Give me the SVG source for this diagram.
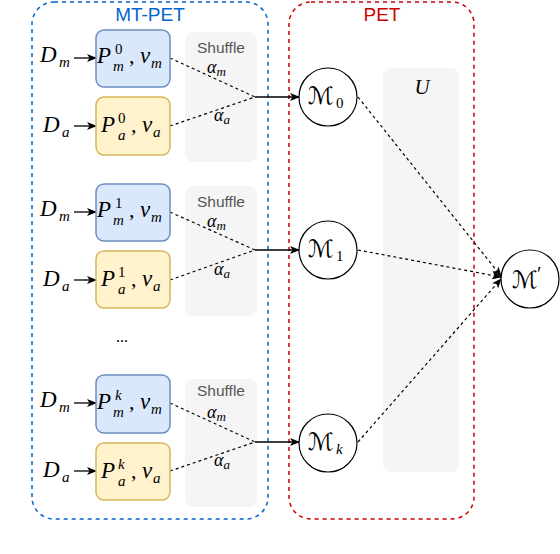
<svg xmlns="http://www.w3.org/2000/svg" width="560" height="554" viewBox="0 0 560 554">
<defs>
<style>
.cont{fill:none;stroke-width:1.5;stroke-dasharray:4 4}
.blue{fill:#dae8fc;stroke:#6c8ebf;stroke-width:1.5}
.yel{fill:#fff2cc;stroke:#d6b656;stroke-width:1.5}
.gray{fill:#f5f5f5;stroke:none}
.circ{fill:#fff;stroke:#000;stroke-width:1.2}
.dash{fill:none;stroke:#000;stroke-width:1.2;stroke-dasharray:3 3}
.solid{fill:none;stroke:#000;stroke-width:1.3}
.m{font-family:"Liberation Serif","DejaVu Serif",serif;font-style:italic;fill:#000}
.r{font-family:"Liberation Serif","DejaVu Serif",serif;fill:#000}
.cal{font-family:"DejaVu Sans","DejaVu Serif",serif;fill:#000}
.lbl{font-family:"Liberation Sans",Arial,sans-serif;font-size:19px;text-anchor:middle}
.sh{font-family:"Liberation Sans",Arial,sans-serif;font-size:15.5px;fill:#555;text-anchor:middle}
</style>
<marker id="ah" markerWidth="10" markerHeight="8" refX="9" refY="4" orient="auto" markerUnits="userSpaceOnUse">
<path d="M0,0 L10,4 L0,8 L2.5,4 Z" fill="#000"/>
</marker>
</defs>
<rect width="560" height="554" fill="#fff"/>

<g id="mtpet">
<rect x="32" y="2" width="236" height="517" rx="22" class="cont" stroke="#0066cc"/>
<text x="150" y="21" class="lbl" fill="#0066cc">MT-PET</text>
</g>
<g id="pet">
<rect x="289" y="2" width="185" height="517" rx="22" class="cont" stroke="#cc0000"/>
<text x="382" y="21" class="lbl" fill="#cc0000">PET</text>
</g>

<g id="shuffle0"><rect x="185" y="32" width="72" height="130" rx="8" class="gray"/><text x="221" y="53" class="sh">Shuffle</text></g>
<g id="shuffle1"><rect x="185" y="186" width="72" height="130" rx="8" class="gray"/><text x="221" y="207" class="sh">Shuffle</text></g>
<g id="shuffle2"><rect x="185" y="379" width="72" height="128" rx="8" class="gray"/><text x="221" y="396" class="sh">Shuffle</text></g>

<g id="U"><rect x="383" y="68" width="76" height="404" rx="8" class="gray"/><text x="422" y="94" class="m" font-size="21" text-anchor="middle">U</text></g>

<g id="connectors">
<line x1="74" y1="58" x2="96" y2="58" class="solid" marker-end="url(#ah)"/>
<line x1="74" y1="126" x2="96" y2="126" class="solid" marker-end="url(#ah)"/>
<polyline points="170,58 255,97" class="dash"/>
<polyline points="170,126 255,97" class="dash"/>
<line x1="255" y1="97" x2="299" y2="97" class="solid" marker-end="url(#ah)"/>
<line x1="74" y1="212" x2="96" y2="212" class="solid" marker-end="url(#ah)"/>
<line x1="74" y1="280" x2="96" y2="280" class="solid" marker-end="url(#ah)"/>
<polyline points="170,212 255,250" class="dash"/>
<polyline points="170,280 255,250" class="dash"/>
<line x1="255" y1="250" x2="299" y2="250" class="solid" marker-end="url(#ah)"/>
<line x1="74" y1="403" x2="96" y2="403" class="solid" marker-end="url(#ah)"/>
<line x1="74" y1="471" x2="96" y2="471" class="solid" marker-end="url(#ah)"/>
<polyline points="170,403 255,442" class="dash"/>
<polyline points="170,471 255,442" class="dash"/>
<line x1="255" y1="442" x2="299" y2="442" class="solid" marker-end="url(#ah)"/>
<line x1="358" y1="97" x2="501" y2="276" class="dash" marker-end="url(#ah)"/>
<line x1="358" y1="250" x2="501" y2="277" class="dash" marker-end="url(#ah)"/>
<line x1="358" y1="442" x2="501" y2="279" class="dash" marker-end="url(#ah)"/>
</g>

<g id="alphas">
<text x="207" y="73" class="m" font-size="18">α<tspan font-size="13" dy="3">m</tspan></text>
<text x="214" y="121" class="m" font-size="18">α<tspan font-size="13" dy="3">a</tspan></text>
<text x="207" y="227" class="m" font-size="18">α<tspan font-size="13" dy="3">m</tspan></text>
<text x="214" y="275" class="m" font-size="18">α<tspan font-size="13" dy="3">a</tspan></text>
<text x="207" y="418" class="m" font-size="18">α<tspan font-size="13" dy="3">m</tspan></text>
<text x="214" y="466" class="m" font-size="18">α<tspan font-size="13" dy="3">a</tspan></text>
</g>

<g id="D0m"><text x="40" y="62" class="m" font-size="23">D</text><text x="59" y="67" class="m" font-size="15">m</text></g>
<g id="D0a"><text x="43" y="132" class="m" font-size="23">D</text><text x="62" y="137" class="m" font-size="15">a</text></g>
<g id="D1m"><text x="40" y="216" class="m" font-size="23">D</text><text x="59" y="221" class="m" font-size="15">m</text></g>
<g id="D1a"><text x="43" y="286" class="m" font-size="23">D</text><text x="62" y="291" class="m" font-size="15">a</text></g>
<g id="D2m"><text x="40" y="407" class="m" font-size="23">D</text><text x="59" y="412" class="m" font-size="15">m</text></g>
<g id="D2a"><text x="43" y="477" class="m" font-size="23">D</text><text x="62" y="482" class="m" font-size="15">a</text></g>

<g id="Pm0"><rect x="96" y="30" width="74" height="57" rx="8" class="blue"/>
<text x="97" y="63" class="m" font-size="23">P</text><text x="115" y="54" class="r" font-size="15">0</text><text x="113" y="71" class="m" font-size="15">m</text><text x="129" y="63" class="r" font-size="22">,</text><text x="140" y="63" class="m" font-size="23">v</text><text x="151" y="68" class="m" font-size="15">m</text></g>
<g id="Pa0"><rect x="96" y="97" width="74" height="58" rx="8" class="yel"/>
<text x="101" y="132" class="m" font-size="23">P</text><text x="118" y="123" class="r" font-size="15">0</text><text x="118" y="140" class="m" font-size="15">a</text><text x="131" y="132" class="r" font-size="22">,</text><text x="142" y="132" class="m" font-size="23">v</text><text x="153" y="137" class="m" font-size="15">a</text></g>

<g id="Pm1"><rect x="96" y="184" width="74" height="57" rx="8" class="blue"/>
<text x="97" y="217" class="m" font-size="23">P</text><text x="115" y="208" class="r" font-size="15">1</text><text x="113" y="225" class="m" font-size="15">m</text><text x="129" y="217" class="r" font-size="22">,</text><text x="140" y="217" class="m" font-size="23">v</text><text x="151" y="222" class="m" font-size="15">m</text></g>
<g id="Pa1"><rect x="96" y="251" width="74" height="57" rx="8" class="yel"/>
<text x="101" y="286" class="m" font-size="23">P</text><text x="118" y="277" class="r" font-size="15">1</text><text x="118" y="294" class="m" font-size="15">a</text><text x="131" y="286" class="r" font-size="22">,</text><text x="142" y="286" class="m" font-size="23">v</text><text x="153" y="291" class="m" font-size="15">a</text></g>

<g id="dots"><text x="122" y="342" class="r" font-size="16" text-anchor="middle">...</text></g>

<g id="Pmk"><rect x="96" y="375" width="74" height="58" rx="8" class="blue"/>
<text x="97" y="409" class="m" font-size="23">P</text><text x="115" y="400" class="m" font-size="15">k</text><text x="113" y="417" class="m" font-size="15">m</text><text x="129" y="409" class="r" font-size="22">,</text><text x="140" y="409" class="m" font-size="23">v</text><text x="151" y="414" class="m" font-size="15">m</text></g>
<g id="Pak"><rect x="96" y="443" width="74" height="57" rx="8" class="yel"/>
<text x="101" y="478" class="m" font-size="23">P</text><text x="118" y="469" class="m" font-size="15">k</text><text x="118" y="486" class="m" font-size="15">a</text><text x="131" y="478" class="r" font-size="22">,</text><text x="142" y="478" class="m" font-size="23">v</text><text x="153" y="483" class="m" font-size="15">a</text></g>

<g id="M0"><circle cx="328" cy="97" r="29" class="circ"/><text x="308" y="104" class="cal" font-size="24" font-style="italic">ℳ</text><text x="336" y="108" class="r" font-size="15">0</text></g>
<g id="M1"><circle cx="328" cy="250" r="29" class="circ"/><text x="308" y="257" class="cal" font-size="24" font-style="italic">ℳ</text><text x="336" y="261" class="r" font-size="15">1</text></g>
<g id="Mk"><circle cx="328" cy="443" r="29" class="circ"/><text x="308" y="450" class="cal" font-size="24" font-style="italic">ℳ</text><text x="336" y="454" class="m" font-size="15">k</text></g>
<g id="Mp"><circle cx="530" cy="279" r="29" class="circ"/><text x="512" y="288" class="cal" font-size="24" font-style="italic">ℳ</text><text x="537" y="281" class="r" font-size="20">′</text></g>
</svg>
